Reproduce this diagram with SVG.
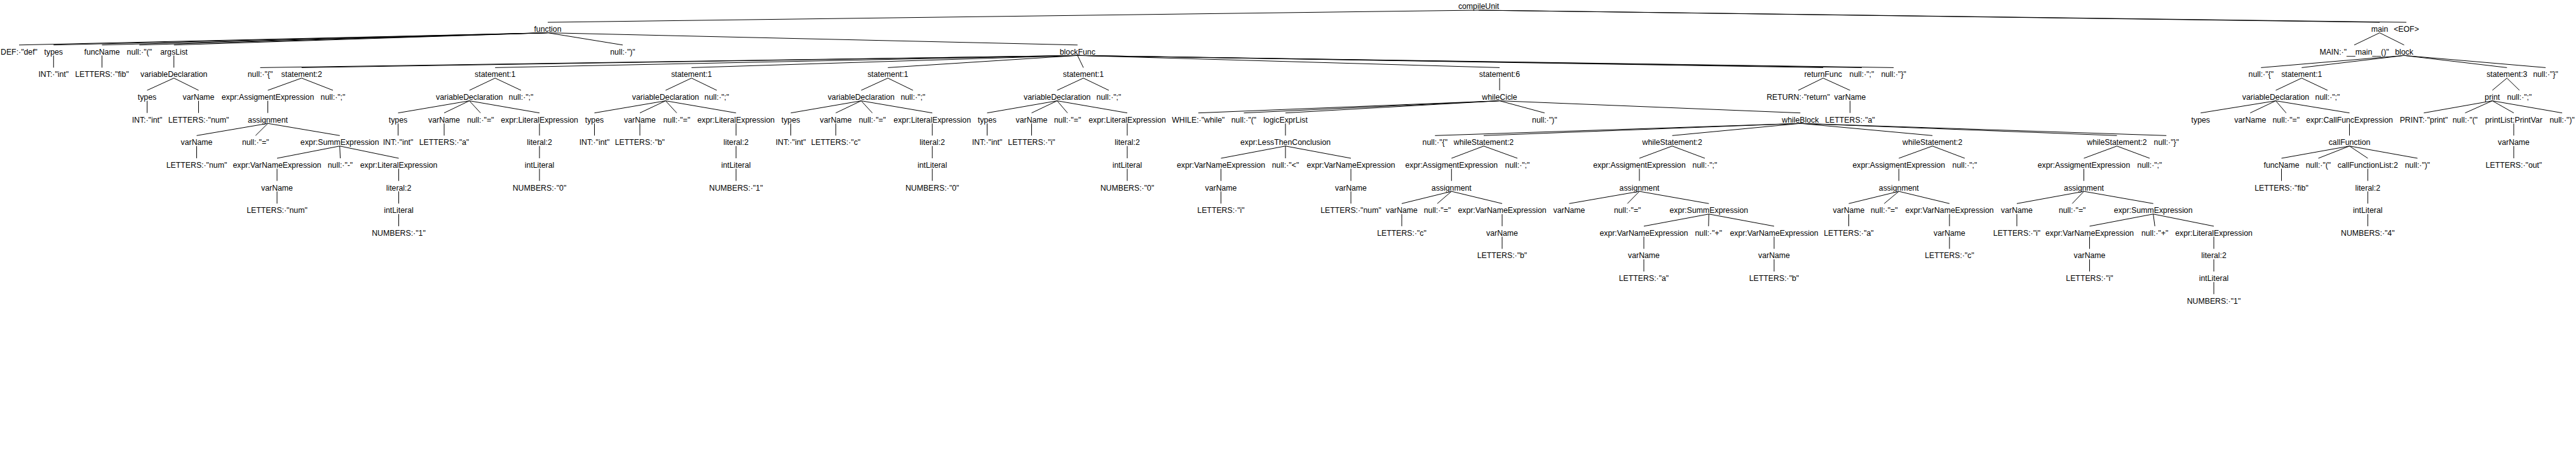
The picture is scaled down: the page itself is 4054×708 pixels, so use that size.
<svg xmlns="http://www.w3.org/2000/svg" width="4054" height="708" viewBox="0 0 4054 708">
<style>
text{font-family:"Liberation Sans",Arial,sans-serif;font-size:12.3px;text-anchor:middle;fill:#000}
#edges line{stroke:#000;stroke-width:1}
</style>
<rect width="4054" height="708" fill="#fff"/>
<g id="edges">
<line x1="2327" y1="16" x2="862" y2="35.1"/><line x1="2327" y1="16" x2="3745" y2="35.1"/><line x1="2327" y1="16" x2="3787" y2="35.1"/>
<line x1="862" y1="51.6" x2="30" y2="70.8"/><line x1="862" y1="51.6" x2="84.3" y2="70.8"/><line x1="862" y1="51.6" x2="160.5" y2="70.8"/><line x1="862" y1="51.6" x2="219.3" y2="70.8"/><line x1="862" y1="51.6" x2="273.7" y2="70.8"/><line x1="862" y1="51.6" x2="980" y2="70.8"/><line x1="862" y1="51.6" x2="1695.8" y2="70.8"/>
<line x1="3745" y1="51.6" x2="3705" y2="70.8"/><line x1="3745" y1="51.6" x2="3783.5" y2="70.8"/>
<line x1="84.3" y1="87.3" x2="84.3" y2="106.4"/><line x1="160.5" y1="87.3" x2="160.5" y2="106.4"/><line x1="273.7" y1="87.3" x2="273.7" y2="106.4"/>
<line x1="1695.8" y1="87.3" x2="409.5" y2="106.4"/><line x1="1695.8" y1="87.3" x2="474.7" y2="106.4"/><line x1="1695.8" y1="87.3" x2="779.2" y2="106.4"/><line x1="1695.8" y1="87.3" x2="1088.3" y2="106.4"/><line x1="1695.8" y1="87.3" x2="1397.3" y2="106.4"/><line x1="1695.8" y1="87.3" x2="1705" y2="106.4"/><line x1="1695.8" y1="87.3" x2="2360" y2="106.4"/><line x1="1695.8" y1="87.3" x2="2869.2" y2="106.4"/><line x1="1695.8" y1="87.3" x2="2930" y2="106.4"/><line x1="1695.8" y1="87.3" x2="2980.2" y2="106.4"/>
<line x1="3783.5" y1="87.3" x2="3558.3" y2="106.4"/><line x1="3783.5" y1="87.3" x2="3622.3" y2="106.4"/><line x1="3783.5" y1="87.3" x2="3945.3" y2="106.4"/><line x1="3783.5" y1="87.3" x2="4006.2" y2="106.4"/>
<line x1="273.7" y1="122.9" x2="231.5" y2="142.1"/><line x1="273.7" y1="122.9" x2="312.5" y2="142.1"/>
<line x1="474.7" y1="122.9" x2="421.5" y2="142.1"/><line x1="474.7" y1="122.9" x2="524" y2="142.1"/>
<line x1="779.2" y1="122.9" x2="738.7" y2="142.1"/><line x1="779.2" y1="122.9" x2="820" y2="142.1"/>
<line x1="1088.3" y1="122.9" x2="1047.5" y2="142.1"/><line x1="1088.3" y1="122.9" x2="1128" y2="142.1"/>
<line x1="1397.3" y1="122.9" x2="1355.3" y2="142.1"/><line x1="1397.3" y1="122.9" x2="1436.8" y2="142.1"/>
<line x1="1705" y1="122.9" x2="1663.7" y2="142.1"/><line x1="1705" y1="122.9" x2="1745" y2="142.1"/>
<line x1="2360" y1="122.9" x2="2360" y2="142.1"/>
<line x1="2869.2" y1="122.9" x2="2830" y2="142.1"/><line x1="2869.2" y1="122.9" x2="2911.5" y2="142.1"/>
<line x1="3622.3" y1="122.9" x2="3581.5" y2="142.1"/><line x1="3622.3" y1="122.9" x2="3663" y2="142.1"/>
<line x1="3945.3" y1="122.9" x2="3922.3" y2="142.1"/><line x1="3945.3" y1="122.9" x2="3965" y2="142.1"/>
<line x1="231.5" y1="158.6" x2="231.5" y2="177.7"/><line x1="312.5" y1="158.6" x2="312.5" y2="177.7"/><line x1="421.5" y1="158.6" x2="421.5" y2="177.7"/>
<line x1="738.7" y1="158.6" x2="626.5" y2="177.7"/><line x1="738.7" y1="158.6" x2="699" y2="177.7"/><line x1="738.7" y1="158.6" x2="756.2" y2="177.7"/><line x1="738.7" y1="158.6" x2="849" y2="177.7"/>
<line x1="1047.5" y1="158.6" x2="935.5" y2="177.7"/><line x1="1047.5" y1="158.6" x2="1007" y2="177.7"/><line x1="1047.5" y1="158.6" x2="1065" y2="177.7"/><line x1="1047.5" y1="158.6" x2="1158.3" y2="177.7"/>
<line x1="1355.3" y1="158.6" x2="1244.5" y2="177.7"/><line x1="1355.3" y1="158.6" x2="1315.3" y2="177.7"/><line x1="1355.3" y1="158.6" x2="1372.8" y2="177.7"/><line x1="1355.3" y1="158.6" x2="1467.2" y2="177.7"/>
<line x1="1663.7" y1="158.6" x2="1553.5" y2="177.7"/><line x1="1663.7" y1="158.6" x2="1623.5" y2="177.7"/><line x1="1663.7" y1="158.6" x2="1680" y2="177.7"/><line x1="1663.7" y1="158.6" x2="1774" y2="177.7"/>
<line x1="2360" y1="158.6" x2="1885.8" y2="177.7"/><line x1="2360" y1="158.6" x2="1957.5" y2="177.7"/><line x1="2360" y1="158.6" x2="2023" y2="177.7"/><line x1="2360" y1="158.6" x2="2430.8" y2="177.7"/><line x1="2360" y1="158.6" x2="2833.3" y2="177.7"/>
<line x1="2911.5" y1="158.6" x2="2911.5" y2="177.7"/>
<line x1="3581.5" y1="158.6" x2="3463.3" y2="177.7"/><line x1="3581.5" y1="158.6" x2="3541.3" y2="177.7"/><line x1="3581.5" y1="158.6" x2="3597.8" y2="177.7"/><line x1="3581.5" y1="158.6" x2="3697.5" y2="177.7"/>
<line x1="3922.3" y1="158.6" x2="3814.5" y2="177.7"/><line x1="3922.3" y1="158.6" x2="3879.5" y2="177.7"/><line x1="3922.3" y1="158.6" x2="3956" y2="177.7"/><line x1="3922.3" y1="158.6" x2="4032.2" y2="177.7"/>
<line x1="421.5" y1="194.2" x2="309.5" y2="213.3"/><line x1="421.5" y1="194.2" x2="402.2" y2="213.3"/><line x1="421.5" y1="194.2" x2="534.7" y2="213.3"/>
<line x1="626.5" y1="194.2" x2="626.5" y2="213.3"/><line x1="699" y1="194.2" x2="699" y2="213.3"/><line x1="849" y1="194.2" x2="849" y2="213.3"/><line x1="935.5" y1="194.2" x2="935.5" y2="213.3"/><line x1="1007" y1="194.2" x2="1007" y2="213.3"/><line x1="1158.3" y1="194.2" x2="1158.3" y2="213.3"/><line x1="1244.5" y1="194.2" x2="1244.5" y2="213.3"/><line x1="1315.3" y1="194.2" x2="1315.3" y2="213.3"/><line x1="1467.2" y1="194.2" x2="1467.2" y2="213.3"/><line x1="1553.5" y1="194.2" x2="1553.5" y2="213.3"/><line x1="1623.5" y1="194.2" x2="1623.5" y2="213.3"/><line x1="1774" y1="194.2" x2="1774" y2="213.3"/><line x1="2023" y1="194.2" x2="2023" y2="213.3"/>
<line x1="2833.3" y1="194.2" x2="2258.3" y2="213.3"/><line x1="2833.3" y1="194.2" x2="2335" y2="213.3"/><line x1="2833.3" y1="194.2" x2="2631.7" y2="213.3"/><line x1="2833.3" y1="194.2" x2="3041.2" y2="213.3"/><line x1="2833.3" y1="194.2" x2="3331.5" y2="213.3"/><line x1="2833.3" y1="194.2" x2="3409.3" y2="213.3"/>
<line x1="3697.5" y1="194.2" x2="3697.5" y2="213.3"/><line x1="3956" y1="194.2" x2="3956" y2="213.3"/>
<line x1="309.5" y1="229.8" x2="309.5" y2="249"/>
<line x1="534.7" y1="229.8" x2="436" y2="249"/><line x1="534.7" y1="229.8" x2="535.5" y2="249"/><line x1="534.7" y1="229.8" x2="627.5" y2="249"/>
<line x1="849" y1="229.8" x2="849" y2="249"/><line x1="1158.3" y1="229.8" x2="1158.3" y2="249"/><line x1="1467.2" y1="229.8" x2="1467.2" y2="249"/><line x1="1774" y1="229.8" x2="1774" y2="249"/>
<line x1="2023" y1="229.8" x2="1921.5" y2="249"/><line x1="2023" y1="229.8" x2="2023" y2="249"/><line x1="2023" y1="229.8" x2="2126" y2="249"/>
<line x1="2335" y1="229.8" x2="2284.3" y2="249"/><line x1="2335" y1="229.8" x2="2388" y2="249"/>
<line x1="2631.7" y1="229.8" x2="2580" y2="249"/><line x1="2631.7" y1="229.8" x2="2683" y2="249"/>
<line x1="3041.2" y1="229.8" x2="2988.3" y2="249"/><line x1="3041.2" y1="229.8" x2="3092" y2="249"/>
<line x1="3331.5" y1="229.8" x2="3279.5" y2="249"/><line x1="3331.5" y1="229.8" x2="3383" y2="249"/>
<line x1="3697.5" y1="229.8" x2="3590.5" y2="249"/><line x1="3697.5" y1="229.8" x2="3648.5" y2="249"/><line x1="3697.5" y1="229.8" x2="3726.3" y2="249"/><line x1="3697.5" y1="229.8" x2="3804.5" y2="249"/>
<line x1="3956" y1="229.8" x2="3956" y2="249"/>
<line x1="436" y1="265.5" x2="436" y2="284.6"/><line x1="627.5" y1="265.5" x2="627.5" y2="284.6"/><line x1="849" y1="265.5" x2="849" y2="284.6"/><line x1="1158.3" y1="265.5" x2="1158.3" y2="284.6"/><line x1="1467.2" y1="265.5" x2="1467.2" y2="284.6"/><line x1="1774" y1="265.5" x2="1774" y2="284.6"/><line x1="1921.5" y1="265.5" x2="1921.5" y2="284.6"/><line x1="2126" y1="265.5" x2="2126" y2="284.6"/><line x1="2284.3" y1="265.5" x2="2284.3" y2="284.6"/><line x1="2580" y1="265.5" x2="2580" y2="284.6"/><line x1="2988.3" y1="265.5" x2="2988.3" y2="284.6"/><line x1="3279.5" y1="265.5" x2="3279.5" y2="284.6"/><line x1="3590.5" y1="265.5" x2="3590.5" y2="284.6"/><line x1="3726.3" y1="265.5" x2="3726.3" y2="284.6"/>
<line x1="436" y1="301.1" x2="436" y2="320.3"/><line x1="627.5" y1="301.1" x2="627.5" y2="320.3"/><line x1="1921.5" y1="301.1" x2="1921.5" y2="320.3"/><line x1="2126" y1="301.1" x2="2126" y2="320.3"/>
<line x1="2284.3" y1="301.1" x2="2206" y2="320.3"/><line x1="2284.3" y1="301.1" x2="2262" y2="320.3"/><line x1="2284.3" y1="301.1" x2="2364" y2="320.3"/>
<line x1="2580" y1="301.1" x2="2469.5" y2="320.3"/><line x1="2580" y1="301.1" x2="2561.2" y2="320.3"/><line x1="2580" y1="301.1" x2="2689.3" y2="320.3"/>
<line x1="2988.3" y1="301.1" x2="2909.5" y2="320.3"/><line x1="2988.3" y1="301.1" x2="2965.3" y2="320.3"/><line x1="2988.3" y1="301.1" x2="3068" y2="320.3"/>
<line x1="3279.5" y1="301.1" x2="3174" y2="320.3"/><line x1="3279.5" y1="301.1" x2="3261.2" y2="320.3"/><line x1="3279.5" y1="301.1" x2="3388.7" y2="320.3"/>
<line x1="3726.3" y1="301.1" x2="3726.3" y2="320.3"/>
<line x1="627.5" y1="336.8" x2="627.5" y2="355.9"/><line x1="2206" y1="336.8" x2="2206" y2="355.9"/><line x1="2364" y1="336.8" x2="2364" y2="355.9"/>
<line x1="2689.3" y1="336.8" x2="2587" y2="355.9"/><line x1="2689.3" y1="336.8" x2="2688.8" y2="355.9"/><line x1="2689.3" y1="336.8" x2="2792" y2="355.9"/>
<line x1="2909.5" y1="336.8" x2="2909.5" y2="355.9"/><line x1="3068" y1="336.8" x2="3068" y2="355.9"/><line x1="3174" y1="336.8" x2="3174" y2="355.9"/>
<line x1="3388.7" y1="336.8" x2="3288.5" y2="355.9"/><line x1="3388.7" y1="336.8" x2="3391.2" y2="355.9"/><line x1="3388.7" y1="336.8" x2="3484" y2="355.9"/>
<line x1="3726.3" y1="336.8" x2="3726.3" y2="355.9"/>
<line x1="2364" y1="372.4" x2="2364" y2="391.5"/><line x1="2587" y1="372.4" x2="2587" y2="391.5"/><line x1="2792" y1="372.4" x2="2792" y2="391.5"/><line x1="3068" y1="372.4" x2="3068" y2="391.5"/><line x1="3288.5" y1="372.4" x2="3288.5" y2="391.5"/><line x1="3484" y1="372.4" x2="3484" y2="391.5"/>
<line x1="2587" y1="408" x2="2587" y2="427.2"/><line x1="2792" y1="408" x2="2792" y2="427.2"/><line x1="3288.5" y1="408" x2="3288.5" y2="427.2"/><line x1="3484" y1="408" x2="3484" y2="427.2"/>
<line x1="3484" y1="443.7" x2="3484" y2="462.8"/>
</g>
<g id="n0"><text x="2327" y="14.4">compileUnit</text></g>
<g id="n1"><text x="862" y="50">function</text></g>
<g id="n2"><text x="3745" y="50">main</text></g>
<g id="n3"><text x="3787" y="50">&lt;EOF&gt;</text></g>
<g id="n4"><text x="30" y="85.7">DEF:·"def"</text></g>
<g id="n5"><text x="84.3" y="85.7">types</text></g>
<g id="n6"><text x="160.5" y="85.7">funcName</text></g>
<g id="n7"><text x="219.3" y="85.7">null:·"("</text></g>
<g id="n8"><text x="273.7" y="85.7">argsList</text></g>
<g id="n9"><text x="980" y="85.7">null:·")"</text></g>
<g id="n10"><text x="1695.8" y="85.7">blockFunc</text></g>
<g id="n11"><text x="3705" y="85.7">MAIN:·"__main__()"</text></g>
<g id="n12"><text x="3783.5" y="85.7">block</text></g>
<g id="n13"><text x="84.3" y="121.3">INT:·"int"</text></g>
<g id="n14"><text x="160.5" y="121.3">LETTERS:·"fib"</text></g>
<g id="n15"><text x="273.7" y="121.3">variableDeclaration</text></g>
<g id="n16"><text x="409.5" y="121.3">null:·"{"</text></g>
<g id="n17"><text x="474.7" y="121.3">statement:2</text></g>
<g id="n18"><text x="779.2" y="121.3">statement:1</text></g>
<g id="n19"><text x="1088.3" y="121.3">statement:1</text></g>
<g id="n20"><text x="1397.3" y="121.3">statement:1</text></g>
<g id="n21"><text x="1705" y="121.3">statement:1</text></g>
<g id="n22"><text x="2360" y="121.3">statement:6</text></g>
<g id="n23"><text x="2869.2" y="121.3">returnFunc</text></g>
<g id="n24"><text x="2930" y="121.3">null:·";"</text></g>
<g id="n25"><text x="2980.2" y="121.3">null:·"}"</text></g>
<g id="n26"><text x="3558.3" y="121.3">null:·"{"</text></g>
<g id="n27"><text x="3622.3" y="121.3">statement:1</text></g>
<g id="n28"><text x="3945.3" y="121.3">statement:3</text></g>
<g id="n29"><text x="4006.2" y="121.3">null:·"}"</text></g>
<g id="n30"><text x="231.5" y="157">types</text></g>
<g id="n31"><text x="312.5" y="157">varName</text></g>
<g id="n32"><text x="421.5" y="157">expr:AssigmentExpression</text></g>
<g id="n33"><text x="524" y="157">null:·";"</text></g>
<g id="n34"><text x="738.7" y="157">variableDeclaration</text></g>
<g id="n35"><text x="820" y="157">null:·";"</text></g>
<g id="n36"><text x="1047.5" y="157">variableDeclaration</text></g>
<g id="n37"><text x="1128" y="157">null:·";"</text></g>
<g id="n38"><text x="1355.3" y="157">variableDeclaration</text></g>
<g id="n39"><text x="1436.8" y="157">null:·";"</text></g>
<g id="n40"><text x="1663.7" y="157">variableDeclaration</text></g>
<g id="n41"><text x="1745" y="157">null:·";"</text></g>
<g id="n42"><text x="2360" y="157">whileCicle</text></g>
<g id="n43"><text x="2830" y="157">RETURN:·"return"</text></g>
<g id="n44"><text x="2911.5" y="157">varName</text></g>
<g id="n45"><text x="3581.5" y="157">variableDeclaration</text></g>
<g id="n46"><text x="3663" y="157">null:·";"</text></g>
<g id="n47"><text x="3922.3" y="157">print</text></g>
<g id="n48"><text x="3965" y="157">null:·";"</text></g>
<g id="n49"><text x="231.5" y="192.6">INT:·"int"</text></g>
<g id="n50"><text x="312.5" y="192.6">LETTERS:·"num"</text></g>
<g id="n51"><text x="421.5" y="192.6">assignment</text></g>
<g id="n52"><text x="626.5" y="192.6">types</text></g>
<g id="n53"><text x="699" y="192.6">varName</text></g>
<g id="n54"><text x="756.2" y="192.6">null:·"="</text></g>
<g id="n55"><text x="849" y="192.6">expr:LiteralExpression</text></g>
<g id="n56"><text x="935.5" y="192.6">types</text></g>
<g id="n57"><text x="1007" y="192.6">varName</text></g>
<g id="n58"><text x="1065" y="192.6">null:·"="</text></g>
<g id="n59"><text x="1158.3" y="192.6">expr:LiteralExpression</text></g>
<g id="n60"><text x="1244.5" y="192.6">types</text></g>
<g id="n61"><text x="1315.3" y="192.6">varName</text></g>
<g id="n62"><text x="1372.8" y="192.6">null:·"="</text></g>
<g id="n63"><text x="1467.2" y="192.6">expr:LiteralExpression</text></g>
<g id="n64"><text x="1553.5" y="192.6">types</text></g>
<g id="n65"><text x="1623.5" y="192.6">varName</text></g>
<g id="n66"><text x="1680" y="192.6">null:·"="</text></g>
<g id="n67"><text x="1774" y="192.6">expr:LiteralExpression</text></g>
<g id="n68"><text x="1885.8" y="192.6">WHILE:·"while"</text></g>
<g id="n69"><text x="1957.5" y="192.6">null:·"("</text></g>
<g id="n70"><text x="2023" y="192.6">logicExprList</text></g>
<g id="n71"><text x="2430.8" y="192.6">null:·")"</text></g>
<g id="n72"><text x="2833.3" y="192.6">whileBlock</text></g>
<g id="n73"><text x="2911.5" y="192.6">LETTERS:·"a"</text></g>
<g id="n74"><text x="3463.3" y="192.6">types</text></g>
<g id="n75"><text x="3541.3" y="192.6">varName</text></g>
<g id="n76"><text x="3597.8" y="192.6">null:·"="</text></g>
<g id="n77"><text x="3697.5" y="192.6">expr:CallFuncExpression</text></g>
<g id="n78"><text x="3814.5" y="192.6">PRINT:·"print"</text></g>
<g id="n79"><text x="3879.5" y="192.6">null:·"("</text></g>
<g id="n80"><text x="3956" y="192.6">printList:PrintVar</text></g>
<g id="n81"><text x="4032.2" y="192.6">null:·")"</text></g>
<g id="n82"><text x="309.5" y="228.2">varName</text></g>
<g id="n83"><text x="402.2" y="228.2">null:·"="</text></g>
<g id="n84"><text x="534.7" y="228.2">expr:SummExpression</text></g>
<g id="n85"><text x="626.5" y="228.2">INT:·"int"</text></g>
<g id="n86"><text x="699" y="228.2">LETTERS:·"a"</text></g>
<g id="n87"><text x="849" y="228.2">literal:2</text></g>
<g id="n88"><text x="935.5" y="228.2">INT:·"int"</text></g>
<g id="n89"><text x="1007" y="228.2">LETTERS:·"b"</text></g>
<g id="n90"><text x="1158.3" y="228.2">literal:2</text></g>
<g id="n91"><text x="1244.5" y="228.2">INT:·"int"</text></g>
<g id="n92"><text x="1315.3" y="228.2">LETTERS:·"c"</text></g>
<g id="n93"><text x="1467.2" y="228.2">literal:2</text></g>
<g id="n94"><text x="1553.5" y="228.2">INT:·"int"</text></g>
<g id="n95"><text x="1623.5" y="228.2">LETTERS:·"i"</text></g>
<g id="n96"><text x="1774" y="228.2">literal:2</text></g>
<g id="n97"><text x="2023" y="228.2">expr:LessThenConclusion</text></g>
<g id="n98"><text x="2258.3" y="228.2">null:·"{"</text></g>
<g id="n99"><text x="2335" y="228.2">whileStatement:2</text></g>
<g id="n100"><text x="2631.7" y="228.2">whileStatement:2</text></g>
<g id="n101"><text x="3041.2" y="228.2">whileStatement:2</text></g>
<g id="n102"><text x="3331.5" y="228.2">whileStatement:2</text></g>
<g id="n103"><text x="3409.3" y="228.2">null:·"}"</text></g>
<g id="n104"><text x="3697.5" y="228.2">callFunction</text></g>
<g id="n105"><text x="3956" y="228.2">varName</text></g>
<g id="n106"><text x="309.5" y="263.9">LETTERS:·"num"</text></g>
<g id="n107"><text x="436" y="263.9">expr:VarNameExpression</text></g>
<g id="n108"><text x="535.5" y="263.9">null:·"-"</text></g>
<g id="n109"><text x="627.5" y="263.9">expr:LiteralExpression</text></g>
<g id="n110"><text x="849" y="263.9">intLiteral</text></g>
<g id="n111"><text x="1158.3" y="263.9">intLiteral</text></g>
<g id="n112"><text x="1467.2" y="263.9">intLiteral</text></g>
<g id="n113"><text x="1774" y="263.9">intLiteral</text></g>
<g id="n114"><text x="1921.5" y="263.9">expr:VarNameExpression</text></g>
<g id="n115"><text x="2023" y="263.9">null:·"&lt;"</text></g>
<g id="n116"><text x="2126" y="263.9">expr:VarNameExpression</text></g>
<g id="n117"><text x="2284.3" y="263.9">expr:AssigmentExpression</text></g>
<g id="n118"><text x="2388" y="263.9">null:·";"</text></g>
<g id="n119"><text x="2580" y="263.9">expr:AssigmentExpression</text></g>
<g id="n120"><text x="2683" y="263.9">null:·";"</text></g>
<g id="n121"><text x="2988.3" y="263.9">expr:AssigmentExpression</text></g>
<g id="n122"><text x="3092" y="263.9">null:·";"</text></g>
<g id="n123"><text x="3279.5" y="263.9">expr:AssigmentExpression</text></g>
<g id="n124"><text x="3383" y="263.9">null:·";"</text></g>
<g id="n125"><text x="3590.5" y="263.9">funcName</text></g>
<g id="n126"><text x="3648.5" y="263.9">null:·"("</text></g>
<g id="n127"><text x="3726.3" y="263.9">callFunctionList:2</text></g>
<g id="n128"><text x="3804.5" y="263.9">null:·")"</text></g>
<g id="n129"><text x="3956" y="263.9">LETTERS:·"out"</text></g>
<g id="n130"><text x="436" y="299.5">varName</text></g>
<g id="n131"><text x="627.5" y="299.5">literal:2</text></g>
<g id="n132"><text x="849" y="299.5">NUMBERS:·"0"</text></g>
<g id="n133"><text x="1158.3" y="299.5">NUMBERS:·"1"</text></g>
<g id="n134"><text x="1467.2" y="299.5">NUMBERS:·"0"</text></g>
<g id="n135"><text x="1774" y="299.5">NUMBERS:·"0"</text></g>
<g id="n136"><text x="1921.5" y="299.5">varName</text></g>
<g id="n137"><text x="2126" y="299.5">varName</text></g>
<g id="n138"><text x="2284.3" y="299.5">assignment</text></g>
<g id="n139"><text x="2580" y="299.5">assignment</text></g>
<g id="n140"><text x="2988.3" y="299.5">assignment</text></g>
<g id="n141"><text x="3279.5" y="299.5">assignment</text></g>
<g id="n142"><text x="3590.5" y="299.5">LETTERS:·"fib"</text></g>
<g id="n143"><text x="3726.3" y="299.5">literal:2</text></g>
<g id="n144"><text x="436" y="335.2">LETTERS:·"num"</text></g>
<g id="n145"><text x="627.5" y="335.2">intLiteral</text></g>
<g id="n146"><text x="1921.5" y="335.2">LETTERS:·"i"</text></g>
<g id="n147"><text x="2126" y="335.2">LETTERS:·"num"</text></g>
<g id="n148"><text x="2206" y="335.2">varName</text></g>
<g id="n149"><text x="2262" y="335.2">null:·"="</text></g>
<g id="n150"><text x="2364" y="335.2">expr:VarNameExpression</text></g>
<g id="n151"><text x="2469.5" y="335.2">varName</text></g>
<g id="n152"><text x="2561.2" y="335.2">null:·"="</text></g>
<g id="n153"><text x="2689.3" y="335.2">expr:SummExpression</text></g>
<g id="n154"><text x="2909.5" y="335.2">varName</text></g>
<g id="n155"><text x="2965.3" y="335.2">null:·"="</text></g>
<g id="n156"><text x="3068" y="335.2">expr:VarNameExpression</text></g>
<g id="n157"><text x="3174" y="335.2">varName</text></g>
<g id="n158"><text x="3261.2" y="335.2">null:·"="</text></g>
<g id="n159"><text x="3388.7" y="335.2">expr:SummExpression</text></g>
<g id="n160"><text x="3726.3" y="335.2">intLiteral</text></g>
<g id="n161"><text x="627.5" y="370.8">NUMBERS:·"1"</text></g>
<g id="n162"><text x="2206" y="370.8">LETTERS:·"c"</text></g>
<g id="n163"><text x="2364" y="370.8">varName</text></g>
<g id="n164"><text x="2587" y="370.8">expr:VarNameExpression</text></g>
<g id="n165"><text x="2688.8" y="370.8">null:·"+"</text></g>
<g id="n166"><text x="2792" y="370.8">expr:VarNameExpression</text></g>
<g id="n167"><text x="2909.5" y="370.8">LETTERS:·"a"</text></g>
<g id="n168"><text x="3068" y="370.8">varName</text></g>
<g id="n169"><text x="3174" y="370.8">LETTERS:·"i"</text></g>
<g id="n170"><text x="3288.5" y="370.8">expr:VarNameExpression</text></g>
<g id="n171"><text x="3391.2" y="370.8">null:·"+"</text></g>
<g id="n172"><text x="3484" y="370.8">expr:LiteralExpression</text></g>
<g id="n173"><text x="3726.3" y="370.8">NUMBERS:·"4"</text></g>
<g id="n174"><text x="2364" y="406.4">LETTERS:·"b"</text></g>
<g id="n175"><text x="2587" y="406.4">varName</text></g>
<g id="n176"><text x="2792" y="406.4">varName</text></g>
<g id="n177"><text x="3068" y="406.4">LETTERS:·"c"</text></g>
<g id="n178"><text x="3288.5" y="406.4">varName</text></g>
<g id="n179"><text x="3484" y="406.4">literal:2</text></g>
<g id="n180"><text x="2587" y="442.1">LETTERS:·"a"</text></g>
<g id="n181"><text x="2792" y="442.1">LETTERS:·"b"</text></g>
<g id="n182"><text x="3288.5" y="442.1">LETTERS:·"i"</text></g>
<g id="n183"><text x="3484" y="442.1">intLiteral</text></g>
<g id="n184"><text x="3484" y="477.7">NUMBERS:·"1"</text></g>
</svg>
